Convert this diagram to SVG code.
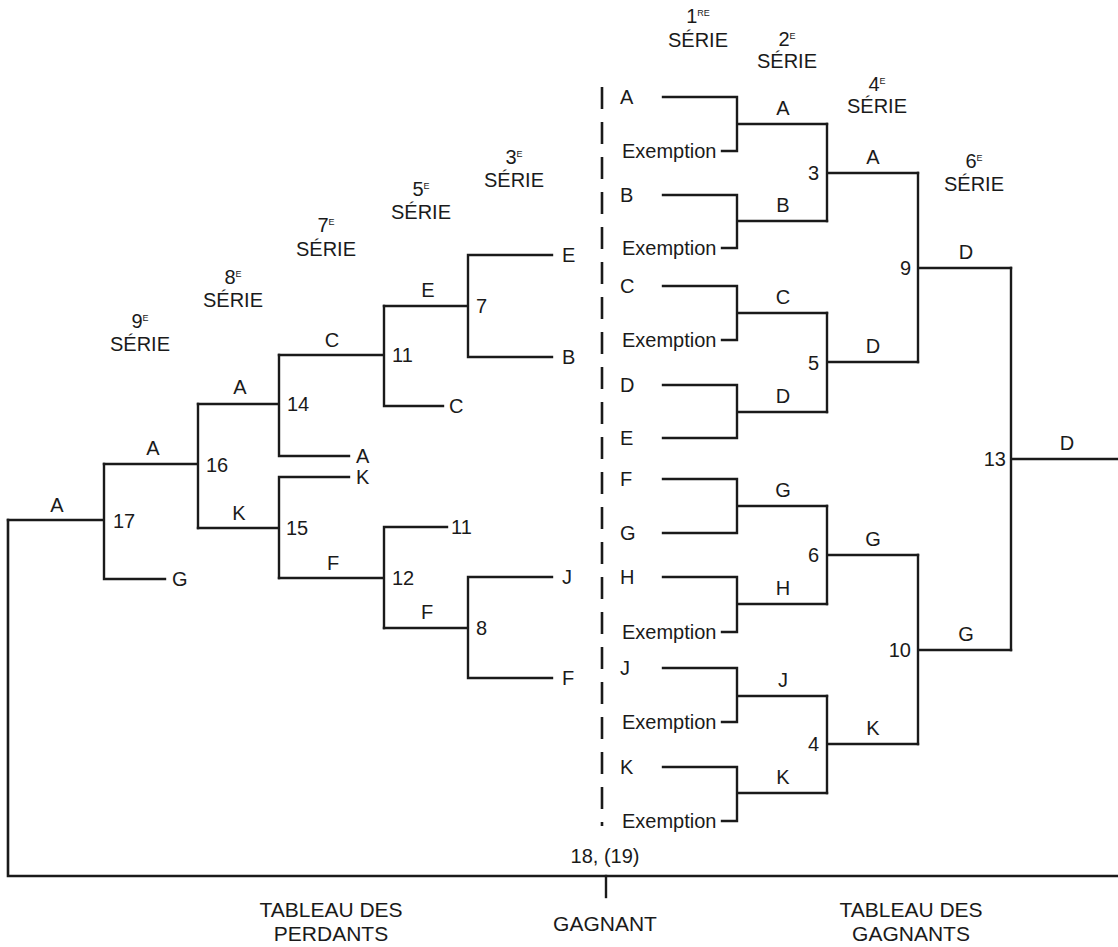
<svg xmlns="http://www.w3.org/2000/svg" width="1118" height="947" viewBox="0 0 1118 947">
<style>
text{font-family:"Liberation Sans",Arial,sans-serif;font-size:20px;fill:#1a1a1a}
.m{text-anchor:middle}
.e{text-anchor:end}
.b{font-size:21px}
.sup{font-size:9px}
.ln{stroke:#1a1a1a;stroke-width:2.4;fill:none;stroke-linecap:square}
.dash{stroke:#1a1a1a;stroke-width:2.6;fill:none;stroke-dasharray:22 13}
</style>
<rect width="1118" height="947" fill="#fff"/>

<g id="headers">
<g id="h1"><text class="m" x="698" y="23">1<tspan class="sup" dy="-7">RE</tspan></text><text class="m" x="698" y="47">SÉRIE</text></g>
<g id="h2"><text class="m" x="787" y="46">2<tspan class="sup" dy="-7">E</tspan></text><text class="m" x="787" y="68">SÉRIE</text></g>
<g id="h4"><text class="m" x="877" y="91">4<tspan class="sup" dy="-7">E</tspan></text><text class="m" x="877" y="113">SÉRIE</text></g>
<g id="h6"><text class="m" x="974" y="168">6<tspan class="sup" dy="-7">E</tspan></text><text class="m" x="974" y="191">SÉRIE</text></g>
<g id="h3"><text class="m" x="514" y="164">3<tspan class="sup" dy="-7">E</tspan></text><text class="m" x="514" y="187">SÉRIE</text></g>
<g id="h5"><text class="m" x="421" y="196">5<tspan class="sup" dy="-7">E</tspan></text><text class="m" x="421" y="219">SÉRIE</text></g>
<g id="h7"><text class="m" x="326" y="232">7<tspan class="sup" dy="-7">E</tspan></text><text class="m" x="326" y="256">SÉRIE</text></g>
<g id="h8"><text class="m" x="233" y="284">8<tspan class="sup" dy="-7">E</tspan></text><text class="m" x="233" y="307">SÉRIE</text></g>
<g id="h9"><text class="m" x="140" y="328">9<tspan class="sup" dy="-7">E</tspan></text><text class="m" x="140" y="351">SÉRIE</text></g>
</g>

<g id="connectors">
<line class="dash" x1="602" y1="87" x2="602" y2="826"/>
<path class="ln" d="M663 97H737V151H722 M737 124H827"/>
<path class="ln" d="M663 195H737V248H722 M737 221H827"/>
<path class="ln" d="M663 286H737V340H722 M737 313H827"/>
<path class="ln" d="M663 385H737V438H663 M737 412H827"/>
<path class="ln" d="M663 479H737V533H663 M737 506H827"/>
<path class="ln" d="M663 577H737V632H722 M737 604H827"/>
<path class="ln" d="M663 668H737V722H722 M737 696H827"/>
<path class="ln" d="M663 767H737V821H722 M737 793H827"/>
<path class="ln" d="M827 124V221 M827 173H918"/>
<path class="ln" d="M827 313V412 M827 362H918"/>
<path class="ln" d="M827 506V604 M827 555H918"/>
<path class="ln" d="M827 696V793 M827 744H918"/>
<path class="ln" d="M918 173V362 M918 268H1011"/>
<path class="ln" d="M918 555V744 M918 650H1011"/>
<path class="ln" d="M1011 268V650 M1011 459H1118"/>
<path class="ln" d="M552 255H468V357H552 M468 306H384"/>
<path class="ln" d="M552 577H468V678H552 M468 628H384"/>
<path class="ln" d="M384 306V406H443 M384 355H279"/>
<path class="ln" d="M447 527H384V628 M384 578H279"/>
<path class="ln" d="M279 355V456H349 M279 404H198"/>
<path class="ln" d="M349 477H279V578 M279 528H198"/>
<path class="ln" d="M198 404V528 M198 464H104"/>
<path class="ln" d="M104 464V579H165 M104 520H8"/>
<path class="ln" d="M8 520V876H1118" style="stroke-width:2.6"/>
<path class="ln" d="M606 876V897"/>
</g>

<g id="winners-entries">
<g id="e-A"><text x="620" y="104">A</text></g>
<g id="e-ex1"><text x="622" y="158">Exemption</text></g>
<g id="e-B"><text x="620" y="202">B</text></g>
<g id="e-ex2"><text x="622" y="255">Exemption</text></g>
<g id="e-C"><text x="620" y="293">C</text></g>
<g id="e-ex3"><text x="622" y="347">Exemption</text></g>
<g id="e-D"><text x="620" y="392">D</text></g>
<g id="e-E"><text x="620" y="445">E</text></g>
<g id="e-F"><text x="620" y="486">F</text></g>
<g id="e-G"><text x="620" y="540">G</text></g>
<g id="e-H"><text x="620" y="584">H</text></g>
<g id="e-ex4"><text x="622" y="639">Exemption</text></g>
<g id="e-J"><text x="620" y="675">J</text></g>
<g id="e-ex5"><text x="622" y="729">Exemption</text></g>
<g id="e-K"><text x="620" y="774">K</text></g>
<g id="e-ex6"><text x="622" y="828">Exemption</text></g>
</g>

<g id="winners-r2">
<g id="w2-A"><text class="m" x="783" y="115">A</text></g>
<g id="w2-B"><text class="m" x="783" y="212">B</text></g>
<g id="w2-C"><text class="m" x="783" y="304">C</text></g>
<g id="w2-D"><text class="m" x="783" y="403">D</text></g>
<g id="w2-G"><text class="m" x="783" y="497">G</text></g>
<g id="w2-H"><text class="m" x="783" y="595">H</text></g>
<g id="w2-J"><text class="m" x="783" y="687">J</text></g>
<g id="w2-K"><text class="m" x="783" y="784">K</text></g>
</g>

<g id="match-3"><text class="e" x="819" y="180">3</text><text class="m" x="873" y="164">A</text></g>
<g id="match-5"><text class="e" x="819" y="370">5</text><text class="m" x="873" y="353">D</text></g>
<g id="match-6"><text class="e" x="819" y="562">6</text><text class="m" x="873" y="546">G</text></g>
<g id="match-4"><text class="e" x="819" y="751">4</text><text class="m" x="873" y="735">K</text></g>
<g id="match-9"><text class="e" x="911" y="275">9</text><text class="m" x="966" y="259">D</text></g>
<g id="match-10"><text class="e" x="911" y="657">10</text><text class="m" x="966" y="641">G</text></g>
<g id="match-13"><text class="e" x="1006" y="466">13</text><text class="m" x="1067" y="450">D</text></g>

<g id="losers-entries">
<g id="l-E"><text x="562" y="262">E</text></g>
<g id="l-B"><text x="562" y="364">B</text></g>
<g id="l-C"><text x="449" y="413">C</text></g>
<g id="l-A"><text x="356" y="463">A</text></g>
<g id="l-K"><text x="356" y="484">K</text></g>
<g id="l-11"><text x="451" y="534">11</text></g>
<g id="l-J"><text x="562" y="584">J</text></g>
<g id="l-F"><text x="562" y="685">F</text></g>
<g id="l-G"><text x="172" y="586">G</text></g>
</g>

<g id="match-7"><text x="476" y="313">7</text><text class="m" x="428" y="297">E</text></g>
<g id="match-8"><text x="476" y="635">8</text><text class="m" x="427" y="619">F</text></g>
<g id="match-11"><text x="392" y="362">11</text><text class="m" x="332" y="347">C</text></g>
<g id="match-12"><text x="392" y="585">12</text><text class="m" x="333" y="570">F</text></g>
<g id="match-14"><text x="287" y="411">14</text><text class="m" x="240" y="394">A</text></g>
<g id="match-15"><text x="286" y="535">15</text><text class="m" x="239" y="520">K</text></g>
<g id="match-16"><text x="206" y="472">16</text><text class="m" x="153" y="455">A</text></g>
<g id="match-17"><text x="113" y="528">17</text><text class="m" x="57" y="512">A</text></g>
<g id="match-18"><text class="m" x="605" y="863">18, (19)</text></g>

<g id="footer">
<g id="f-perdants"><text class="m b" x="331" y="917">TABLEAU DES</text><text class="m b" x="331" y="941">PERDANTS</text></g>
<g id="f-gagnant"><text class="m b" x="605" y="931">GAGNANT</text></g>
<g id="f-gagnants"><text class="m b" x="911" y="917">TABLEAU DES</text><text class="m b" x="911" y="941">GAGNANTS</text></g>
</g>
</svg>
